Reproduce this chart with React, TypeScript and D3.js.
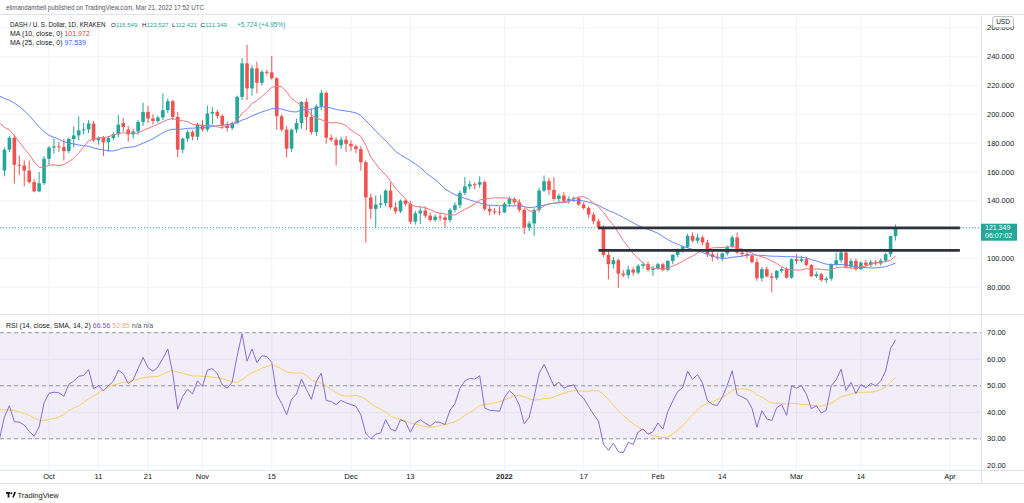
import React from 'react';
import * as d3 from 'd3';

// ---------- data (DASH/USD daily, Kraken) ----------
const firstDay = [2021, 8, 22]; // 22 Sep 2021 (UTC, month 0-based)
const opens = [161,175.5,183.8,165,164.5,161,153,146.6,152.2,169.2,176.9,177.8,177.3,174.5,182.9,185.4,188.9,189.6,193.6,182,183.8,180.6,183.6,186.2,194,189.5,186.1,188.1,194.7,201.7,197.1,195.4,197.8,202.9,209.1,198.2,175.5,183.1,187.7,184.5,192.9,189.4,200.6,201.7,198.9,192.4,190.5,194,212.1,235.4,218,231.9,221.9,229.5,229.1,225,198.7,189.4,176.2,189.4,194,208.6,198.2,187.7,205.6,214.9,183.8,182.4,178.5,182.4,179.6,177.8,175.9,166.8,142.4,134.4,137.4,138.3,147.1,135.5,132.7,140.1,137.9,125.5,131.3,133.2,129.7,126.7,129,128.5,126.7,133.7,137,145.5,150,151.5,151.2,153,134.4,132.7,132.5,132,138,141.3,139,133.7,121.5,124.3,133.7,147.1,153.6,147.6,141.3,143.6,140.1,141.3,141.9,137.4,135,130.4,125.8,121.5,102.5,96,98.8,89.5,88.4,92.3,90.2,94.9,96,92.1,93,96,92.1,98.3,102.5,106.5,108.1,115.7,112.3,114.6,111.1,103,101.1,100.5,103.5,108.1,114.6,104.1,103,101.8,97.5,86.3,92.6,87.5,86.5,91.4,92.6,86.7,99.5,98.3,99.5,95.5,87.8,89,85,86,96,98.8,104.1,94.3,98.3,92.6,97.1,95.5,97.5,96.5,98.5,103,115.549];
const highs = [177,185,186,171.5,168,168,155,160,171,178,183,181,183,184,191.7,198.6,194,196,195.5,184.5,185,185,187.5,199.4,197.5,192,190,196,208,206,200,199,214.5,211,210,201.7,184,189,189,194,196,206,205,203,200,195,195,213,239,248.2,234,236.5,231,231,240.5,226,200,192,190,197,209,211,204,207,217,216,186,184,184.5,185,182,179,178,168,145,143.6,144,148,152.9,139,141,141,140,133,136,136,132,130.5,131.5,130,135,139,147,156.5,154,153,157,154,137,135,136,139,143,142.5,141,135,126,135,149,157.6,156,156.4,145,146,143,143,142.5,139,136,132,127.5,123,106,101,100,92,95,94,96,97.5,98,95,97,97,99,103,107,109,117,118,117,116,113,105,104,104,109,116,118,107,105,103,100,94,94.5,90,92,94,94,100,103,102,101,96,91,90,87.5,96.5,104,106,105,100,100,98,99,99,99,100,104,116,123.527];
const lows = [157,174,152,158,150,152,146,146,151,165,172.7,174,168,173,177,182,186,187,181,179,171,174,182,184,188,181,183,186,192,194,193,194,196,201,196,170.3,173,181,182,182,188,188,193,197,190,188,189,193,210,209.8,213,214.5,220,227,224,189.4,188,170.3,174,187,190,189,186,185,203,179.6,181,164.5,176,174,174.5,173,161,111.1,127.4,121.5,135,136,134,131,131.5,136.5,124,123.5,123.9,128,125.5,125.5,126,121.5,125,132,135,144,148,148,149,133,130,130.5,130,131.5,136,137,132,117,119,115.7,132,146,144,140,139,139,138,139,136.5,134,128,124,120,101,85.6,93,79.7,87,86,88,89,93,91,88,92,91,91,96,101,104,107,111,110.5,109,101,98,99,98,102,107,103,101,100,96.5,84.5,84,87,76.5,85,90,86,86,96,97,94.5,87,86.5,84,83,84.5,95,97,93.5,93,91.5,92,94,94,95,95,97.5,101,112.421];
const closes = [175.5,183.8,165,164.5,161,153,146.6,152.2,169.2,176.9,177.8,177.3,174.5,182.9,185.4,188.9,189.6,193.6,182,183.8,180.6,183.6,186.2,192.9,191.2,186.1,188.1,194.7,201.7,197.1,195.4,197.8,202.9,209.1,198.2,175.5,183.1,187.7,184.5,192.9,189.4,200.6,201.7,198.9,192.4,190.5,194,212.1,235.4,218,231.9,221.9,229.5,229.1,225,198.7,189.4,176.2,189.4,194,208.6,198.2,187.7,205.6,214.9,183.8,182.4,178.5,182.4,179.6,177.8,175.9,166.8,142.4,134.4,137.4,138.3,147.1,135.5,132.7,140.1,137.9,125.5,131.3,133.2,129.7,126.7,129,128.5,126.7,133.7,137,145.5,150,151.5,151.2,153,134.4,132.7,132.5,132,138,141.3,139,133.7,121.5,124.3,133.7,147.1,153.6,147.6,141.3,143.6,140.1,141.3,141.9,137.4,135,130.4,125.8,121.5,102.5,96,98.8,89.5,88.4,92.3,90.2,94.9,96,92.1,93,96,92.1,98.3,102.5,106.5,108.1,115.7,112.3,114.6,111.1,103,101.1,100.5,103.5,108.1,114.6,104.1,103,101.8,97.5,86.3,92.6,87.5,86.5,91.4,92.6,86.7,99.5,98.3,99.5,95.5,87.8,89,85,86,96,98.8,104.1,94.3,98.3,92.6,97.1,95.5,97.5,96.5,98.5,103,115.549,121.349];
// closes of 28 Aug - 21 Sep 2021 (left of the visible range, only used to warm up the indicators)
const priorCloses = [220,215,212,225,232,238,245,248,255,242,210,212,218,205,202,206,200,205,210,205,195,198,190,170,161];

const priceTicks = [80, 100, 120, 140, 160, 180, 200, 220, 240, 260];
const rsiTicks = [20, 30, 40, 50, 60, 70];
const rsiBands = [70, 50, 30];
const timeTickDates = ['2021-10-01','2021-10-11','2021-10-21','2021-11-01','2021-11-15','2021-12-01','2021-12-13','2022-01-01','2022-01-17','2022-02-01','2022-02-14','2022-03-01','2022-03-14','2022-04-01'];
const timeTickLabels = ['Oct','11','21','Nov','15','Dec','13','2022','17','Feb','14','Mar','14','Apr'];
const levelPrices = [121.2, 105.6];
const levelStarts = ['2022-01-20', '2022-01-20'];
const levelEnd = '2022-04-03';

const lastPrice = 121.349;
const changeText = '+5.724 (+4.95%)';
const ma10Last = '101.972';
const ma25Last = '97.539';
const rsiLast = '66.56';
const rsiMaLast = '52.85';

// ---------- helpers ----------
const GREEN = '#26a69a';
const RED = '#ef5350';
const FONT = '"Liberation Sans", Arial, sans-serif';
const utc = (s: string) => { const [y, m, d] = s.split('-').map(Number); return new Date(Date.UTC(y, m - 1, d)); };

function sma(vals: number[], len: number) {
  return vals.map((_, i) => {
    const from = Math.max(0, i - len + 1);
    const w = vals.slice(from, i + 1).filter(v => v != null && !isNaN(v));
    return w.length ? d3.mean(w) as number : NaN;
  });
}
function rsiCalc(vals: number[], len: number) {
  const out: number[] = vals.map(() => NaN);
  let ag = 0, al = 0;
  for (let i = 1; i < vals.length; i++) {
    const ch = vals[i] - vals[i - 1];
    const g = Math.max(ch, 0), l = Math.max(-ch, 0);
    if (i <= len) {
      ag += g; al += l;
      if (i === len) { ag /= len; al /= len; out[i] = al === 0 ? 100 : 100 - 100 / (1 + ag / al); }
    } else {
      ag = (ag * (len - 1) + g) / len; al = (al * (len - 1) + l) / len;
      out[i] = al === 0 ? 100 : 100 - 100 / (1 + ag / al);
    }
  }
  return out;
}

export default function App() {
  const W = 1024, H = 503;
  const plotR = 981;
  const x = d3.scaleUtc().domain([utc('2021-10-01'), utc('2022-04-01')]).range([49, 950]);
  const y = d3.scaleLinear().domain([80, 240]).range([287.3, 56.7]);
  const ry = d3.scaleLinear().domain([30, 70]).range([438.8, 332.7]);

  const nPrior = priorCloses.length;
  const dayAt = (k: number) => new Date(Date.UTC(firstDay[0], firstDay[1], firstDay[2] + k));
  const allCloses = [...priorCloses, ...closes];
  const allDates = allCloses.map((_, j) => dayAt(j - nPrior));
  const ma10 = sma(allCloses, 10);
  const ma25 = sma(allCloses, 25);
  const rsi = rsiCalc(allCloses, 14);
  const rsiMa = sma(rsi, 14);
  const from = nPrior - 2;
  const pts = (arr: number[], sc: (v: number) => number) =>
    arr.map((v, j) => ({ j, v })).filter(p => p.j >= from && !isNaN(p.v)).map(p => [x(allDates[p.j]), sc(p.v)] as [number, number]);
  const line = d3.line();

  const bw = 3.6;
  const candles = closes.map((c, i) => ({ d: dayAt(i), o: opens[i], h: highs[i], l: lows[i], c }));
  const li = closes.length - 1;
  const ohlc = [
    { k: 'O', v: opens[li], x: 111 },
    { k: 'H', v: highs[li], x: 142 },
    { k: 'L', v: lows[li], x: 172 },
    { k: 'C', v: closes[li], x: 200.5 },
  ];

  return (
    <svg width={W} height={H} style={{ position: 'absolute', left: 0, top: 0, background: '#fff' }} fontFamily={FONT}>
      <defs>
        <clipPath id="pclip"><rect x={0} y={15} width={plotR} height={299} /></clipPath>
        <clipPath id="rclip"><rect x={0} y={315} width={plotR} height={155} /></clipPath>
      </defs>
      <rect x={0} y={0} width={W} height={H} fill="#fff" />
      {/* header */}
      <text x={6} y={9.8} fontSize={7} fill="#50535e" textLength={198} lengthAdjust="spacingAndGlyphs">elimandambell published on TradingView.com, Mar 21, 2022 17:52 UTC</text>
      <line x1={0} x2={W} y1={14.5} y2={14.5} stroke="#e0e3eb" strokeWidth={1} />

      {/* grid */}
      <g stroke="#f0f3fa" strokeWidth={1}>
        {timeTickDates.map(s => <line key={s} x1={x(utc(s))} x2={x(utc(s))} y1={15} y2={470} />)}
        {priceTicks.map(p => <line key={p} x1={0} x2={plotR} y1={y(p)} y2={y(p)} />)}
        {rsiTicks.map(p => <line key={'r' + p} x1={0} x2={plotR} y1={ry(p)} y2={ry(p)} />)}
      </g>

      {/* price pane */}
      <g clipPath="url(#pclip)">
        <line x1={0} x2={plotR} y1={y(lastPrice)} y2={y(lastPrice)} stroke={GREEN} strokeWidth={1} strokeDasharray="1 2" />
        {candles.map((k, i) => {
          const cx = x(k.d);
          const col = k.c >= k.o ? GREEN : RED;
          const top = y(Math.max(k.o, k.c)), bot = y(Math.min(k.o, k.c));
          return (
            <g key={i}>
              <line x1={cx} x2={cx} y1={y(k.h)} y2={y(k.l)} stroke={col} strokeWidth={1} />
              <rect x={cx - bw / 2} y={top} width={bw} height={Math.max(1, bot - top)} fill={col} />
            </g>
          );
        })}
        <path d={line(pts(ma25, y)) || ''} fill="none" stroke="#6686fa" strokeWidth={1} />
        <path d={line(pts(ma10, y)) || ''} fill="none" stroke="#f3767c" strokeWidth={1} />
        {levelPrices.map((p, i) => (
          <line key={p} x1={x(utc(levelStarts[i]))} x2={x(utc(levelEnd))} y1={y(p)} y2={y(p)} stroke="#2f323c" strokeWidth={2.6} />
        ))}
      </g>
      <text x={10} y={26.5} fontSize={6.3} fill="#131722">DASH / U. S. Dollar, 1D, KRAKEN</text>
      {ohlc.map(o => (
        <text key={o.k} x={o.x} y={26.5} fontSize={6.1} fill="#131722">{o.k}<tspan fill={GREEN}>{o.v.toFixed(3)}</tspan></text>
      ))}
      <text x={237} y={26.5} fontSize={6.5} fill={GREEN}>{changeText}</text>
      <text x={10} y={35.8} fontSize={7} fill="#131722">MA (10, close, 0) <tspan fill="#f23645">{ma10Last}</tspan></text>
      <text x={10} y={45.2} fontSize={7} fill="#131722">MA (25, close, 0) <tspan fill="#2962ff">{ma25Last}</tspan></text>

      {/* RSI pane */}
      <line x1={0} x2={W} y1={314.5} y2={314.5} stroke="#e0e3eb" strokeWidth={1} />
      <rect x={0} y={ry(70)} width={plotR} height={ry(30) - ry(70)} fill="#7e57c2" fillOpacity={0.1} />
      {rsiBands.map(b => <line key={b} x1={0} x2={plotR} y1={ry(b)} y2={ry(b)} stroke="#9598a1" strokeWidth={1} strokeDasharray="4 3" />)}
      <g clipPath="url(#rclip)">
        <path d={line(pts(rsiMa, ry)) || ''} fill="none" stroke="#f7cf5a" strokeWidth={1} />
        <path d={line(pts(rsi, ry)) || ''} fill="none" stroke="#8a6bd1" strokeWidth={1} />
      </g>
      <text x={6} y={327.5} fontSize={7} fill="#131722">RSI (14, close, SMA, 14, 2) <tspan fill="#7e57c2">{rsiLast}</tspan> <tspan fill="#e8bd3a">{rsiMaLast}</tspan> <tspan fill="#50535e">n/a</tspan> <tspan fill="#50535e">n/a</tspan></text>

      {/* right axis */}
      <line x1={plotR + 0.5} x2={plotR + 0.5} y1={15} y2={483} stroke="#e0e3eb" strokeWidth={1} />
      {priceTicks.filter(p => Math.abs(y(p) - y(lastPrice)) > 12).map(p => (
        <text key={p} x={987} y={y(p) + 2.6} fontSize={7.5} fill="#131722">{p.toFixed(3)}</text>
      ))}
      {rsiTicks.map(p => (
        <text key={'rt' + p} x={987} y={ry(p) + 2.6} fontSize={7.5} fill="#131722">{p.toFixed(2)}</text>
      ))}
      <rect x={992.5} y={16.5} width={21} height={11} rx={2.5} fill="#fff" stroke="#b2b5be" strokeWidth={0.8} />
      <text x={1003} y={24.4} fontSize={6.5} textAnchor="middle" fill="#131722">USD</text>
      <rect x={981} y={y(lastPrice) - 4} width={36} height={17} fill={GREEN} />
      <text x={985} y={y(lastPrice) + 2.7} fontSize={7} fill="#fff">{lastPrice.toFixed(3)}</text>
      <text x={985} y={y(lastPrice) + 10.7} fontSize={7} fill="#fff">06:07:02</text>

      {/* time axis */}
      <line x1={0} x2={W} y1={470.5} y2={470.5} stroke="#e0e3eb" strokeWidth={1} />
      <line x1={0} x2={W} y1={483.5} y2={483.5} stroke="#e0e3eb" strokeWidth={1} />
      {timeTickDates.map((s, i) => (
        <text key={s} x={x(utc(s))} y={478.6} fontSize={7.5} textAnchor="middle" fill="#131722" fontWeight={timeTickLabels[i] === '2022' ? 'bold' : 'normal'}>{timeTickLabels[i]}</text>
      ))}

      {/* logo */}
      <g fill="#131722">
        <rect x={6} y={492} width={4} height={1.8} />
        <rect x={7.6} y={492} width={1.8} height={5.5} />
        <circle cx={11.3} cy={493.3} r={1} />
        <path d="M12.2 497.5 L14.2 492 L16 492 L13.8 497.5 Z" />
      </g>
      <text x={17.5} y={497.5} fontSize={7.5} fill="#131722">TradingView</text>
    </svg>
  );
}
